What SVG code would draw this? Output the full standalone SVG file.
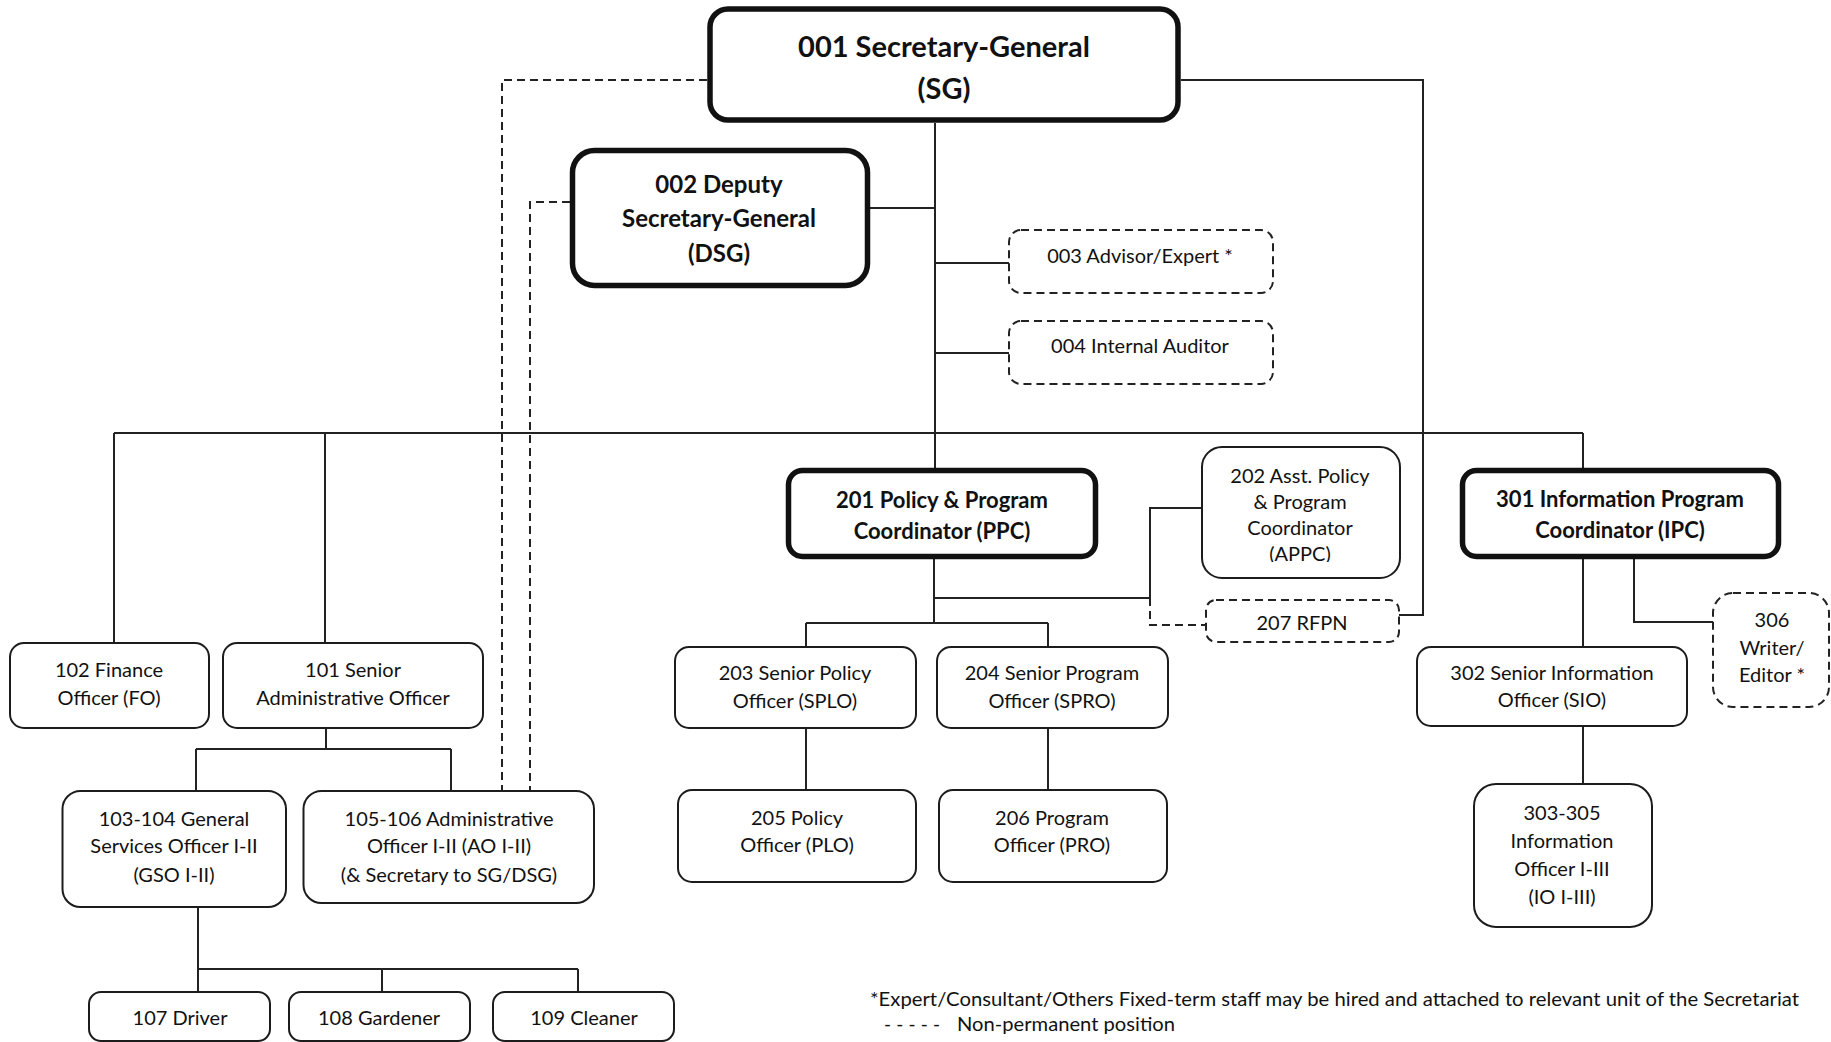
<svg xmlns="http://www.w3.org/2000/svg" width="1831" height="1042" viewBox="0 0 1831 1042">
  <style>
    .box { fill: #fff; stroke: #1c1c1c; stroke-width: 2; }
    .thick { fill: #fff; stroke: #111; stroke-width: 5.5; }
    .dash { fill: #fff; stroke: #222; stroke-width: 2; stroke-dasharray: 8 5; }
    .ln { fill: none; stroke: #222; stroke-width: 2; }
    .dl { fill: none; stroke: #222; stroke-width: 2; stroke-dasharray: 8 5; }
    text { font-family: Lato, "Liberation Sans", sans-serif; fill: #111; text-anchor: middle; font-size: 20px; }
    .b { font-weight: bold; }
    .big { font-size: 29px; }
    .mid { font-size: 24px; }
    .hd { font-size: 22px; }
    .note { font-size: 19px; text-anchor: start; }
  </style>
  <defs>
    <clipPath id="appcClip">
      <rect x="1202" y="447" width="198" height="115"/>
    </clipPath>
  </defs>
  <rect width="1831" height="1042" fill="#fff"/>

  <!-- reporting lines -->
  <g id="connectors">
    <path class="ln" d="M935 123 V468"/>
    <path class="ln" d="M870 208 H935"/>
    <path class="ln" d="M935 263 H1009"/>
    <path class="ln" d="M935 353 H1009"/>
    <path class="ln" d="M114 433 H1583"/>
    <path class="ln" d="M114 433 V643"/>
    <path class="ln" d="M325 433 V643"/>
    <path class="ln" d="M1583 433 V468"/>
    <path class="ln" d="M326 728 V749 M196 749 H451 M196 749 V791 M451 749 V791"/>
    <path class="ln" d="M198 907 V992 M198 969 H578 M382 969 V992 M578 969 V992"/>
    <path class="ln" d="M934 559 V623 M806 623 H1048 M806 623 V647 M1048 623 V647"/>
    <path class="ln" d="M934 598 H1150 V508 H1202"/>
    <path class="dl" d="M1150 598 V625 H1206"/>
    <path class="ln" d="M1181 80 H1423 V615 H1399"/>
    <path class="dl" d="M707 80 H502 V791"/>
    <path class="dl" d="M570 202 H530 V791"/>
    <path class="ln" d="M806 728 V790"/>
    <path class="ln" d="M1048 728 V790"/>
    <path class="ln" d="M1583 559 V647"/>
    <path class="ln" d="M1583 726 V784"/>
    <path class="ln" d="M1634 559 V622 H1713"/>
  </g>

  <g id="n001">
    <rect class="thick" x="710" y="9" width="468" height="111" rx="18"/>
    <text class="b big" x="944" y="57">001 Secretary-General</text>
    <text class="b big" x="944" y="99">(SG)</text>
  </g>
  <g id="n002">
    <rect class="thick" x="572.5" y="150.5" width="295" height="135" rx="22"/>
    <text class="b mid" x="719" y="193">002 Deputy</text>
    <text class="b mid" x="719" y="227">Secretary-General</text>
    <text class="b mid" x="719" y="262">(DSG)</text>
  </g>
  <g id="n003">
    <rect class="dash" x="1009" y="230" width="264" height="63" rx="12"/>
    <text x="1140" y="263">003 Advisor/Expert *</text>
  </g>
  <g id="n004">
    <rect class="dash" x="1009" y="321" width="264" height="63" rx="12"/>
    <text x="1140" y="353">004 Internal Auditor</text>
  </g>

  <g id="n102">
    <rect class="box" x="10" y="643" width="199" height="85" rx="14"/>
    <text x="109" y="677">102 Finance</text>
    <text x="109" y="705">Officer (FO)</text>
  </g>
  <g id="n101">
    <rect class="box" x="223" y="643" width="260" height="85" rx="14"/>
    <text x="353" y="677">101 Senior</text>
    <text x="353" y="705">Administrative Officer</text>
  </g>
  <g id="n103">
    <rect class="box" x="62.5" y="791" width="223.5" height="116" rx="18"/>
    <text x="174" y="826">103-104 General</text>
    <text x="174" y="853">Services Officer I-II</text>
    <text x="174" y="882">(GSO I-II)</text>
  </g>
  <g id="n105">
    <rect class="box" x="303.5" y="791" width="290.5" height="112" rx="18"/>
    <text x="449" y="826">105-106 Administrative</text>
    <text x="449" y="853">Officer I-II (AO I-II)</text>
    <text x="449" y="882">(&amp; Secretary to SG/DSG)</text>
  </g>
  <g id="n107">
    <rect class="box" x="89" y="992" width="181" height="49" rx="12"/>
    <text x="180" y="1025">107 Driver</text>
  </g>
  <g id="n108">
    <rect class="box" x="289" y="992" width="181" height="49" rx="12"/>
    <text x="379" y="1025">108 Gardener</text>
  </g>
  <g id="n109">
    <rect class="box" x="493" y="992" width="181" height="49" rx="12"/>
    <text x="584" y="1025">109 Cleaner</text>
  </g>

  <g id="n201">
    <rect class="thick" x="788.5" y="470.5" width="307" height="86" rx="14"/>
    <text class="b hd" x="942" y="508">201 Policy &amp; Program</text>
    <text class="b hd" x="942" y="539">Coordinator (PPC)</text>
  </g>
  <g id="n202">
    <rect class="box" x="1202" y="447" width="198" height="131" rx="20"/>
    <text x="1300" y="483">202 Asst. Policy</text>
    <text x="1300" y="509">&amp; Program</text>
    <text x="1300" y="535">Coordinator</text>
    <text x="1300" y="561" clip-path="url(#appcClip)">(APPC)</text>
  </g>
  <g id="n207">
    <rect class="dash" x="1206" y="600" width="193" height="42" rx="10"/>
    <text x="1302" y="630">207 RFPN</text>
  </g>
  <g id="n203">
    <rect class="box" x="675" y="647" width="241" height="81" rx="14"/>
    <text x="795" y="680">203 Senior Policy</text>
    <text x="795" y="708">Officer (SPLO)</text>
  </g>
  <g id="n204">
    <rect class="box" x="937" y="647" width="231" height="81" rx="14"/>
    <text x="1052" y="680">204 Senior Program</text>
    <text x="1052" y="708">Officer (SPRO)</text>
  </g>
  <g id="n205">
    <rect class="box" x="678" y="790" width="238" height="92" rx="14"/>
    <text x="797" y="825">205 Policy</text>
    <text x="797" y="852">Officer (PLO)</text>
  </g>
  <g id="n206">
    <rect class="box" x="939" y="790" width="228" height="92" rx="14"/>
    <text x="1052" y="825">206 Program</text>
    <text x="1052" y="852">Officer (PRO)</text>
  </g>

  <g id="n301">
    <rect class="thick" x="1462.5" y="470.5" width="316" height="86" rx="14"/>
    <text class="b hd" x="1620" y="507">301 Information Program</text>
    <text class="b hd" x="1620" y="538">Coordinator (IPC)</text>
  </g>
  <g id="n302">
    <rect class="box" x="1417" y="647" width="270" height="79" rx="14"/>
    <text x="1552" y="680">302 Senior Information</text>
    <text x="1552" y="707">Officer (SIO)</text>
  </g>
  <g id="n303">
    <rect class="box" x="1474" y="784" width="178" height="143" rx="22"/>
    <text x="1562" y="820">303-305</text>
    <text x="1562" y="848">Information</text>
    <text x="1562" y="876">Officer I-III</text>
    <text x="1562" y="904">(IO I-III)</text>
  </g>
  <g id="n306">
    <rect class="dash" x="1713" y="593" width="116" height="114" rx="20"/>
    <text x="1772" y="627">306</text>
    <text x="1772" y="655">Writer/</text>
    <text x="1772" y="682">Editor *</text>
  </g>

  <g id="legend">
    <text class="note" x="870" y="1006" textLength="929" lengthAdjust="spacingAndGlyphs">*Expert/Consultant/Others Fixed-term staff may be hired and attached to relevant unit of the Secretariat</text>
    <text class="note" x="884" y="1031" textLength="56" lengthAdjust="spacing">-----</text>
    <text class="note" x="957" y="1031" textLength="218" lengthAdjust="spacingAndGlyphs">Non-permanent position</text>
  </g>
</svg>
